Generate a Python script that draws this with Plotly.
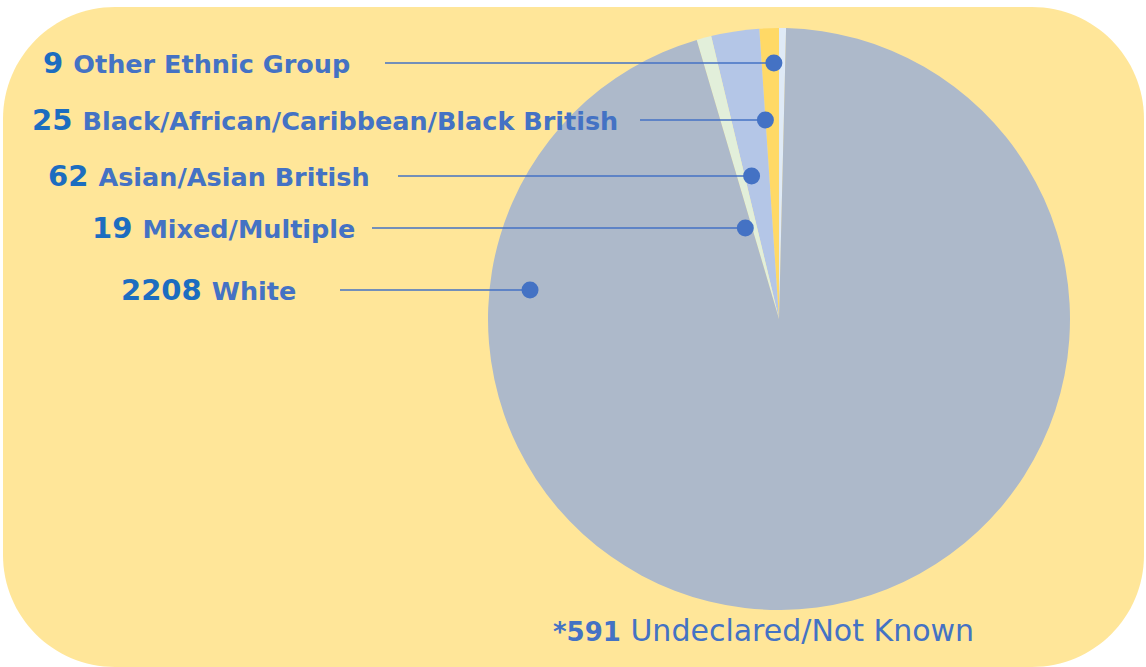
import math
import plotly.graph_objects as go

# ---- data ----
categories = ["Other Ethnic Group", "Black/African/Caribbean/Black British",
              "Asian/Asian British", "Mixed/Multiple", "White"]
counts = [9, 25, 62, 19, 2208]
undeclared = 591
undeclared_label = "Undeclared/Not Known"

# ---- styles / layout ----
W, H = 1146, 667
slice_colors = ["#dfeaf6", "#ffd966", "#b4c6e7", "#e2efda", "#adb9ca"]
bg_color = "#ffe699"
num_color = "#1c6dc0"
lab_color = "#4472c4"
dot_color = "#4472c4"
FONT = "DejaVu Sans"

cx, cy, R = 779, 319, 291          # pie centre / radius in pixels
label_y = [63, 120, 176, 228, 290]  # label rows in pixels
label_right = [352, 620, 372, 357, 298]
line_gap = [33, 20, 26, 15, 42]
dot_r = 8.5

fig = go.Figure()

# rounded background panel
x0, y0, x1, y1, r = 3, 7, 1144, 667, 112
k = 0.5523 * r
path = (f"M {x0+r},{y0} L {x1-r},{y0} C {x1-r+k},{y0} {x1},{y0+r-k} {x1},{y0+r} "
        f"L {x1},{y1-r} C {x1},{y1-r+k} {x1-r+k},{y1} {x1-r},{y1} "
        f"L {x0+r},{y1} C {x0+r-k},{y1} {x0},{y1-r+k} {x0},{y1-r} "
        f"L {x0},{y0+r} C {x0},{y0+r-k} {x0+r-k},{y0} {x0+r},{y0} Z")
fig.add_shape(type="path", path=path, xref="x", yref="y", fillcolor=bg_color,
              line=dict(width=0), layer="below")

fig.add_trace(go.Pie(
    values=counts, labels=categories, sort=False, direction="counterclockwise",
    rotation=0, textinfo="none", hoverinfo="label+value",
    marker=dict(colors=slice_colors, line=dict(width=0)),
    domain=dict(x=[(cx - R) / W, (cx + R) / W], y=[1 - (cy + R) / H, 1 - (cy - R) / H]),
    showlegend=False,
))

# dot positions derived from slice angles
total = sum(counts)
cum = 0
dots_x, dots_y = [], []
for i, v in enumerate(counts):
    mid = (cum + v / 2) / total * 2 * math.pi
    cum += v
    if i < len(counts) - 1:
        dx = (cy - label_y[i]) * math.tan(mid) + 2 + (5 if i == 3 else 0)
        dots_x.append(cx - dx)
    else:
        ang = math.radians(83)
        dots_x.append(cx - 0.862 * R * math.sin(ang))
    dots_y.append(label_y[i])

for i in range(len(counts)):
    xs = label_right[i] + line_gap[i]
    fig.add_shape(type="line", x0=xs, x1=dots_x[i], y0=dots_y[i], y1=dots_y[i],
                  xref="x", yref="y", line=dict(color=dot_color, width=1.4), layer="above")
    fig.add_shape(type="circle", x0=dots_x[i] - dot_r, x1=dots_x[i] + dot_r,
                  y0=dots_y[i] - dot_r, y1=dots_y[i] + dot_r, xref="x", yref="y",
                  fillcolor=dot_color, line=dict(width=0), layer="above")

for i, (c, v) in enumerate(zip(categories, counts)):
    txt = (f"<span style='font-size:29px;color:{num_color}'><b>{v} </b></span>"
           f"<span style='font-size:25.5px;color:{lab_color}'><b>{c}</b></span>")
    fig.add_annotation(x=label_right[i], y=label_y[i], xref="x", yref="y", text=txt,
                       showarrow=False, xanchor="right", yanchor="middle")

fig.add_annotation(x=763, y=630, xref="x", yref="y",
                   text=(f"<span style='font-size:26px;color:{lab_color}'><b>*{undeclared}</b></span>"
                         f"<span style='font-size:30px;color:{lab_color}'> {undeclared_label}</span>"),
                   showarrow=False, xanchor="center", yanchor="middle")

fig.update_layout(
    width=W, height=H, margin=dict(l=0, r=0, t=0, b=0),
    paper_bgcolor="white", plot_bgcolor="rgba(0,0,0,0)",
    font=dict(family=FONT, color=lab_color),
    xaxis=dict(range=[0, W], visible=False, fixedrange=True),
    yaxis=dict(range=[H, 0], visible=False, fixedrange=True),
)

fig.write_html("out.html", config={"displayModeBar": False},
               post_script="document.body.style.margin='0';")
